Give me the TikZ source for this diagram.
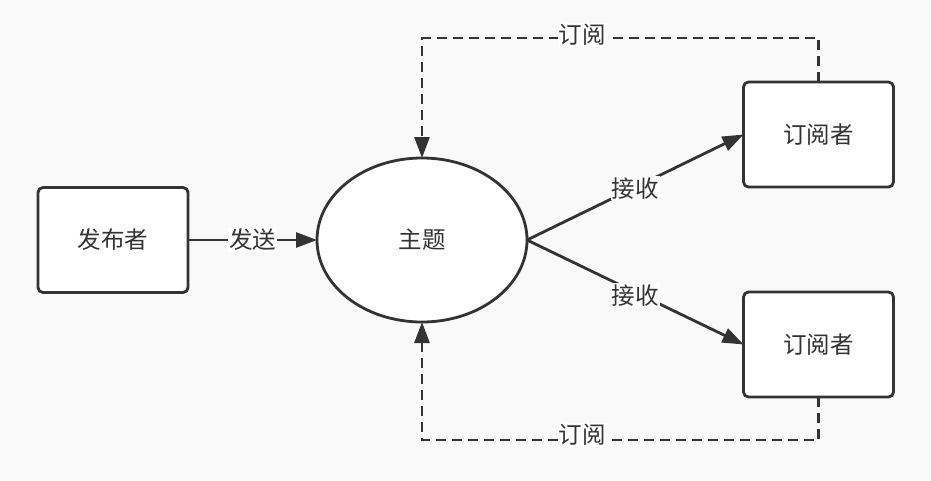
\documentclass[tikz,border=0pt]{standalone}
\usepackage{fontspec}
\newfontfamily\cjk{Noto Sans CJK SC}
\usetikzlibrary{arrows.meta,shapes.geometric}
\definecolor{bg}{HTML}{F9F9F9}
\definecolor{ink}{HTML}{333333}
\tikzset{
  box/.style={draw=ink, fill=white, line width=2.8pt, rounded corners=5pt,
    minimum width=150pt, minimum height=105pt, inner sep=0pt, outer sep=0pt,
    font=\cjk\fontsize{23.5}{26}\selectfont, text=ink},
  topicnode/.style={ellipse, draw=ink, fill=white, line width=2.8pt,
    minimum width=210pt, minimum height=164pt, inner sep=0pt, outer sep=0pt,
    font=\cjk\fontsize{23.5}{26}\selectfont, text=ink},
  conn/.style={draw=ink, line width=2.8pt, -{Triangle[length=21pt,width=15pt]}},
  subconn/.style={conn, dash pattern=on 10pt off 6pt},
  lbl/.style={fill=white, inner sep=1pt, text=ink, font=\cjk\fontsize{23.5}{26}\selectfont}
}
\begin{document}
\begin{tikzpicture}[x=1pt,y=-1pt]
\fill[bg] (0,0) rectangle (931,480);
\useasboundingbox (0,0) rectangle (931,480);
\node[box] (pub) at (113,240) {发布者};
\node[topicnode] (topic) at (422,240) {主题};
\node[box] (s1) at (818.5,134.5) {订阅者};
\node[box] (s2) at (818.5,344.5) {订阅者};
\coordinate (c1) at (818.5,38);
\coordinate (c2) at (422,38);
\coordinate (c3) at (818.5,440);
\coordinate (c4) at (422,440);
\draw[conn] (pub.east) -- node[lbl]{发送} (topic.west);
\draw[conn] (topic.east) -- node[lbl, yshift=-1pt]{接收} (s1.west);
\draw[conn] (topic.east) -- node[lbl, yshift=-3pt]{接收} (s2.west);
\draw[subconn] (s1.north) -- (c1) -- node[lbl, pos=0.596, yshift=3pt]{订阅} (c2) -- (topic.north);
\draw[subconn] (s2.south) -- (c3) -- node[lbl, pos=0.596, yshift=5pt]{订阅} (c4) -- (topic.south);
\end{tikzpicture}
\end{document}
